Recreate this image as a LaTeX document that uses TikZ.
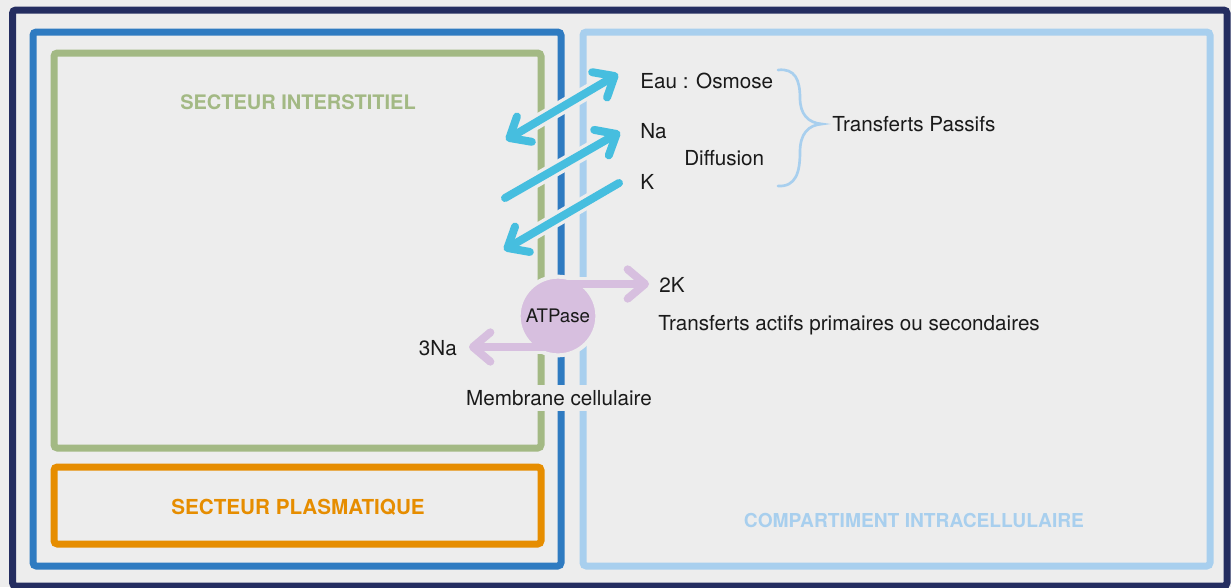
\documentclass[tikz,border=0pt]{standalone}
\usepackage{fontspec}
\setmainfont{TeX Gyre Heros}
\usetikzlibrary{arrows.meta}
\definecolor{fond}{HTML}{EDEDED}
\definecolor{marine}{HTML}{242D60}
\definecolor{bleu}{HTML}{2F7BC1}
\definecolor{vert}{HTML}{A3B984}
\definecolor{orange}{HTML}{E68D00}
\definecolor{ciel}{HTML}{A8CFEE}
\definecolor{cyanfl}{HTML}{46BEDF}
\definecolor{mauve}{HTML}{D7BFDF}
\definecolor{texte}{HTML}{1A1A1A}
\begin{document}
\begin{tikzpicture}[x=0.75pt,y=-0.75pt,>={Straight Barb[length=13pt,width=22pt,round]}]
\tikzstyle{cadre}=[line width=5.25pt,rounded corners=2.5pt]
\tikzstyle{titre}=[font=\bfseries\fontsize{15}{17}\selectfont]
\tikzstyle{txt}=[text=texte,font=\fontsize{15.5}{18}\selectfont,inner sep=0pt]
\tikzstyle{flux}=[draw=cyanfl,line width=6pt,line cap=round,preaction={draw=fond,line width=11pt,-}]
\tikzstyle{pompe}=[draw=mauve,line width=6pt,line cap=round]

\fill[fond] (0,0) rectangle (1231,587);
\useasboundingbox (0,0) rectangle (1231,587);

% compartiments
\draw[cadre,marine] (12.5,10) rectangle (1227,586);
\draw[cadre,bleu] (33,32) rectangle (561,566);
\draw[cadre,vert] (54,53) rectangle (541,448);
\draw[cadre,orange] (54,467) rectangle (541,544);
\draw[cadre,ciel] (583,32) rectangle (1210,566);

\node[titre,text=vert] at (298,102) (interstitiel) {SECTEUR INTERSTITIEL};
\node[titre,text=orange,font=\bfseries\fontsize{15.5}{17}\selectfont] at (298,507) (plasma) {SECTEUR PLASMATIQUE};
\node[titre,text=ciel,font=\bfseries\fontsize{14.4}{17}\selectfont] at (914,520) (intra) {COMPARTIMENT INTRACELLULAIRE};

% transferts passifs
\node[txt,anchor=west] at (640,81) (eau) {Eau : Osmose};
\node[txt,anchor=west] at (640,131) (na) {Na};
\node[txt,anchor=west] at (684,158) (diffusion) {Diffusion};
\node[txt,anchor=west] at (640,182) (k) {K};
\node[txt,anchor=west] at (832,124) (passifs) {Transferts Passifs};

\coordinate (eauin) at (506,140);
\coordinate (eauout) at (618,74);
\coordinate (nain) at (505,198);
\coordinate (naout) at (620,132);
\coordinate (kout) at (619,183);
\coordinate (kin) at (504,250);

\draw[flux,<->] (eauin) -- (eauout);
\draw[flux,->] (nain) -- (naout);
\draw[flux,->] (kout) -- (kin);

\draw[ciel,line width=2pt,line cap=round] (778,70) .. controls (795,68) and (800,80) .. (800,98)
  .. controls (800,114) and (808,123) .. (822,124)
  .. controls (808,125) and (800,134) .. (800,152)
  .. controls (800,172) and (796,187) .. (778,186);

% transferts actifs
\coordinate (kdeuxbout) at (649,284);
\coordinate (natroisbout) at (469,347);
\coordinate (kdeuxdep) at (558,284);
\coordinate (natroisdep) at (558,347);
\draw[fond,line width=11pt] (kdeuxdep) -- (kdeuxbout);
\draw[fond,line width=11pt] (natroisdep) -- (natroisbout);
\node[circle,fill=mauve,draw=fond,line width=3pt,minimum size=59pt,inner sep=0pt] at (558,316) (atpase) {};
\draw[pompe,->] (kdeuxdep) -- (kdeuxbout);
\draw[pompe,->] (natroisdep) -- (natroisbout);
\node[txt,font=\fontsize{14}{16}\selectfont] at (atpase.center) (atp) {ATPase};

\node[txt,anchor=west] at (659,285) (kdeux) {2K};
\node[txt,anchor=west] at (658,325) (actifs) {Transferts actifs primaires ou secondaires};
\node[txt,anchor=east] at (457,348) (natrois) {3Na};
\node[txt,fill=fond,inner sep=4pt] at (559,398) (membrane) {Membrane cellulaire};
\end{tikzpicture}
\end{document}
